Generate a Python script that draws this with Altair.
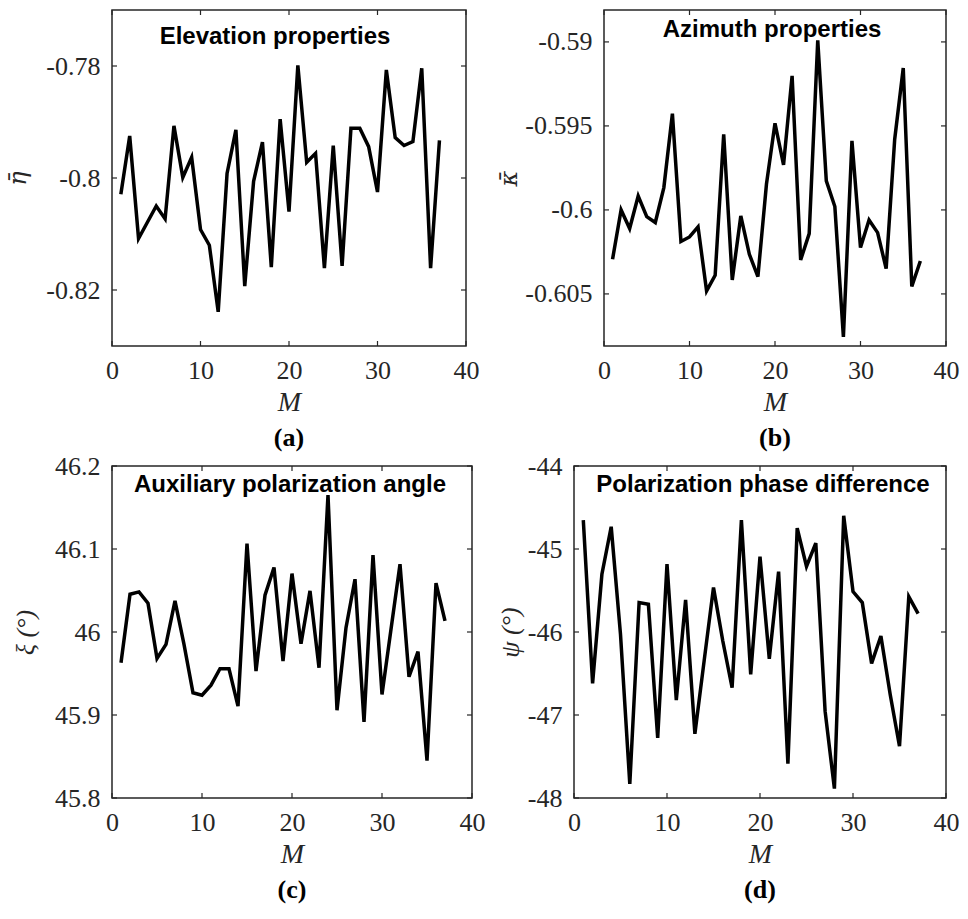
import altair as alt
import pandas as pd

# Sample index
M = list(range(1, 38))

# Estimated parameters per sample
eta = [-0.8029, -0.7925, -0.8108, -0.8079, -0.8050, -0.8073, -0.7907, -0.7999, -0.7963, -0.8092,
       -0.8120, -0.8239, -0.7992, -0.7914, -0.8193, -0.8006, -0.7936, -0.8159, -0.7895, -0.8060,
       -0.7799, -0.7972, -0.7956, -0.8161, -0.7942, -0.8157, -0.7911, -0.7911, -0.7944, -0.8025,
       -0.7807, -0.7928, -0.7942, -0.7935, -0.7804, -0.8161, -0.7933]
kappa = [-0.60294, -0.60000, -0.60111, -0.59917, -0.60040, -0.60075, -0.59867, -0.59427, -0.60188, -0.60161,
         -0.60101, -0.60482, -0.60389, -0.59550, -0.60417, -0.60036, -0.60264, -0.60397, -0.59847, -0.59484,
         -0.59732, -0.59202, -0.60298, -0.60141, -0.58990, -0.59827, -0.59980, -0.60756, -0.59589, -0.60224,
         -0.60060, -0.60135, -0.60349, -0.59579, -0.59155, -0.60456, -0.60304]
xi = [45.9630, 46.0455, 46.0483, 46.0346, 45.9682, 45.9851, 46.0374, 45.9851, 45.9268, 45.9239,
      45.9360, 45.9557, 45.9557, 45.9107, 46.1066, 45.9529, 46.0443, 46.0777, 45.9650, 46.0704,
      45.9859, 46.0495, 45.9569, 46.1650, 45.9058, 46.0052, 46.0636, 45.8917, 46.0926, 45.9247,
      46.0032, 46.0817, 45.9461, 45.9763, 45.8451, 46.0588, 46.0133]
psi = [-44.652, -46.620, -45.304, -44.732, -46.028, -47.831, -45.646, -45.666, -47.276, -45.183,
       -46.821, -45.614, -47.227, -46.342, -45.465, -46.109, -46.672, -44.652, -46.511, -45.091,
       -46.322, -45.272, -47.586, -44.748, -45.211, -44.930, -46.954, -47.887, -44.600, -45.513,
       -45.646, -46.378, -46.048, -46.753, -47.376, -45.573, -45.779]

# Axis ticks
x_ticks = [0, 10, 20, 30, 40]
eta_ticks = [-0.82, -0.8, -0.78]
kappa_ticks = [-0.605, -0.6, -0.595, -0.59]
xi_ticks = [45.8, 45.9, 46.0, 46.1, 46.2]
psi_ticks = [-48, -47, -46, -45, -44]

# Text
headings = ["Elevation properties", "Azimuth properties",
            "Auxiliary polarization angle", "Polarization phase difference"]
y_titles = ["\u03b7\u0304", "\u03ba\u0304", "\u03be (\u00b0)", "\u03c8 (\u00b0)"]
captions = ["(a)", "(b)", "(c)", "(d)"]
x_title = "M"

SERIF = "Liberation Serif"
SANS = "Liberation Sans"
AXC = "#262626"
TICK = 5
LABEL_SIZE = 26

LABEL_EXPR = "(datum.value < 0 ? '-' : '') + format(abs(datum.value), '~g')"


def panel(values, ydom, yticks, ytitle, heading, caption, w, h,
          ext, tpad, hx, hy, tfont=SERIF, tsize=26):
    df = pd.DataFrame({"M": M, "v": values})
    xs = alt.Scale(domain=[0, 40], nice=False)
    ys = alt.Scale(domain=ydom, nice=False, zero=False)
    xaxis = alt.Axis(values=x_ticks, title=x_title, grid=False, domain=False, ticks=False,
                     labelFlush=False,
                     labelFont=SERIF, labelFontSize=LABEL_SIZE, labelColor=AXC, labelPadding=11,
                     titleFont=SERIF, titleFontSize=28, titleFontStyle="italic",
                     titleFontWeight="normal", titleColor=AXC, titlePadding=5)
    yaxis = alt.Axis(values=yticks, title=ytitle, grid=False, domain=False, ticks=False,
                     labelFlush=False,
                     labelFont=SERIF, labelFontSize=LABEL_SIZE, labelColor=AXC, labelPadding=12,
                     labelExpr=LABEL_EXPR, minExtent=ext, maxExtent=ext,
                     titleFont=tfont, titleFontSize=tsize, titleFontStyle="italic",
                     titleFontWeight="normal", titleColor=AXC, titlePadding=tpad)
    line = alt.Chart(df).mark_line(color="black", strokeWidth=3.5).encode(
        x=alt.X("M:Q", scale=xs, axis=xaxis),
        y=alt.Y("v:Q", scale=ys, axis=yaxis),
    )
    # inward tick marks on all four sides of the box
    xt = pd.DataFrame({"M": x_ticks})
    yt = pd.DataFrame({"v": yticks})
    rule = dict(color=AXC, strokeWidth=1.2)
    xb = alt.Chart(xt).mark_rule(**rule).encode(
        x=alt.X("M:Q", scale=xs), y=alt.value(h), y2=alt.value(h - TICK))
    xtp = alt.Chart(xt).mark_rule(**rule).encode(
        x=alt.X("M:Q", scale=xs), y=alt.value(0), y2=alt.value(TICK))
    yl = alt.Chart(yt).mark_rule(**rule).encode(
        y=alt.Y("v:Q", scale=ys), x=alt.value(0), x2=alt.value(TICK))
    yr = alt.Chart(yt).mark_rule(**rule).encode(
        y=alt.Y("v:Q", scale=ys), x=alt.value(w - TICK), x2=alt.value(w))
    head = alt.Chart(pd.DataFrame({"label": [heading]})).mark_text(
        font=SANS, fontWeight="bold", fontSize=24, color="black", baseline="middle"
    ).encode(text="label:N", x=alt.value(hx), y=alt.value(hy))
    return alt.layer(line, xb, xtp, yl, yr, head).properties(
        width=w, height=h,
        title=alt.TitleParams(caption, orient="bottom", frame="group", anchor="middle",
                              font=SERIF, fontSize=26, fontWeight="bold", color="black",
                              offset=9),
    )


pa = panel(eta, [-0.83, -0.77], eta_ticks, y_titles[0], headings[0], captions[0],
           354, 336, 68, 14, 163, 27, tfont="DejaVu Serif", tsize=24)
pb = panel(kappa, [-0.6081, -0.5881], kappa_ticks, y_titles[1], headings[1], captions[1],
           342, 336, 80, 3, 168, 20, tfont="DejaVu Serif", tsize=24)
pc = panel(xi, [45.8, 46.2], xi_ticks, y_titles[2], headings[2], captions[2],
           360, 332, 58, 16, 178, 19)
pd_ = panel(psi, [-48, -44], psi_ticks, y_titles[3], headings[3], captions[3],
            372, 332, 47, 4, 189, 19)

chart = alt.concat(
    pa, pb, pc, pd_,
    columns=2, align="none", spacing={"row": 0, "column": 10},
).properties(
    padding={"left": 5, "top": 8, "right": 0, "bottom": 0},
    background="white",
).configure_view(stroke=AXC, strokeWidth=1.5)

chart.save("out.html", embed_options={"renderer": "svg", "actions": False})
